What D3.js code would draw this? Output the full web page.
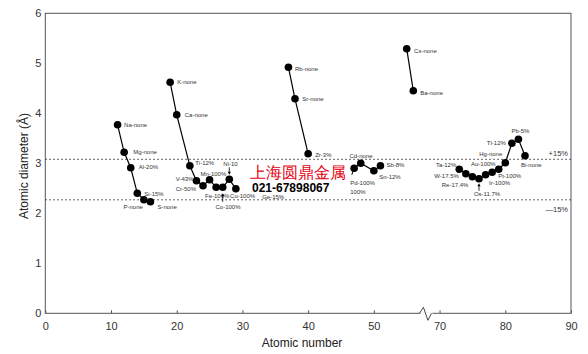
<!DOCTYPE html>
<html lang="en">
<head>
<meta charset="UTF-8">
<title>Atomic diameter vs atomic number</title>
<script src="https://d3js.org/d3.v7.min.js"></script>
<style>
  body { margin: 0; background: #fff; }
  svg text { font-family: "Liberation Sans", Arial, sans-serif; }
  .tick text { font-size: 11px; fill: #333; }
  .note { font-size: 6px; fill: #333; }
  .axis-label { font-size: 12px; fill: #222; }
</style>
</head>
<body>
<svg width="588" height="354"></svg>
<script>
// elements plotted, in drawing order
const symbols = ["Na","Mg","Al","Si","P","S",
  "K","Ca","Ti","V","Cr","Mn","Fe","Co","Ni","Cu",
  "Rb","Sr","Zr",
  "Ag","Cd","Sn","Sb",
  "Cs","Ba",
  "Ta","W","Re","Os","Ir","Pt","Au","Hg","Tl","Pb","Bi"];
const atomicNumbers = [11,12,13,14,15,16,
  19,20,22,23,24,25,26,27,28,29,
  37,38,40,
  47,48,50,51,
  55,56,
  73,74,75,76,77,78,79,80,81,82,83];
const diameters = [3.77,3.22,2.91,2.40,2.27,2.23,
  4.62,3.97,2.95,2.65,2.55,2.67,2.52,2.52,2.68,2.49,
  4.92,4.29,3.19,
  2.90,3.00,2.85,2.95,
  5.29,4.45,
  2.88,2.79,2.73,2.69,2.77,2.82,2.88,3.01,3.40,3.48,3.15];
const seriesId = [0,0,0,0,0,0,
  1,1,1,1,1,1,1,1,1,1,
  2,2,2,
  3,3,3,3,
  4,4,
  5,5,5,5,5,5,5,5,5,5,5];
const solubility = ["none","none","20%","15%","none","none",
  "none","none","12%","43%","50%","100%","100%","100%","10","100%",
  "none","none","3%",
  null,"none","12%","8%",
  "none","none",
  "12%","17.5%","17.4%","11.7%","100%","100%","100%","none","12%","5%","none"];

// extra notes without a marker
const extraNotes = [
  { text: "Pd-100%", x: 46.4, y: 2.60 },
  { text: "100%", x: 46.4, y: 2.42 },
  { text: "Ge-15%", x: 33, y: 2.33 }
];
// arrows pointing at a marker: [atomic number, tail value, tip value]
const arrows = [[28, 2.92, 2.77], [27, 2.23, 2.40], [76, 2.45, 2.60]];
const leaders = [[47, 2.90, 46.64, 2.77]];

const xTicks = [0,10,20,30,40,50,70,80,90];
const yTicks = [0,1,2,3,4,5,6];
const bandUpper = 3.08, bandLower = 2.27;

// label offsets (px) from each marker
const labelLayout = {
  Na:[6.5,0,"start"], Mg:[9,-0.5,"start"], Al:[8,-1,"start"], Si:[7,0.5,"start"],
  P:[-1,7.5,"end"], S:[7,5.5,"start"],
  K:[7,0,"start"], Ca:[8,0,"start"], Ti:[5.5,-2.5,"start"], V:[-3,-2,"end"],
  Cr:[-7,3.6,"end"], Mn:[-9,-5.7,"start"], Fe:[1,8.7,"middle"], Co:[5.3,19.7,"middle"],
  Ni:[1.2,-15.3,"middle"], Cu:[-5.8,7.5,"start"],
  Rb:[6.6,1.5,"start"], Sr:[7.3,0,"start"], Zr:[7,1,"start"],
  Cd:[0.3,-7.6,"middle"], Sn:[5.5,6,"start"], Sb:[6,-1,"start"],
  Cs:[7.4,2,"start"], Ba:[7,2.5,"start"],
  Ta:[-3,-4,"end"], W:[-7,2,"end"], Re:[-4,8,"end"], Os:[8,15.2,"middle"],
  Ir:[3.5,8,"start"], Pt:[6,4,"start"], Au:[-3,-5,"end"], Hg:[-3,-8.5,"end"],
  Tl:[-6,-0.5,"end"], Pb:[2,-8.3,"middle"], Bi:[-4,9,"start"]
};

const data = symbols.map((s, i) => ({
  sym: s, z: atomicNumbers[i], d: diameters[i], g: seriesId[i], note: solubility[i]
}));

const svg = d3.select("svg");
const plotLeft = 45.3, plotRight = 571, plotTop = 13.3, plotBottom = 313.3;
const xBreak = plotLeft + (plotRight - plotLeft) * 58 / 80;

// broken axis: 58..68 collapsed
const x = d3.scaleLinear().domain([0, 58, 68, 90]).range([plotLeft, xBreak, xBreak, plotRight]);
const y = d3.scaleLinear().domain([0, 6]).range([plotBottom, plotTop]);

// frame
svg.append("rect")
  .attr("x", plotLeft).attr("y", plotTop)
  .attr("width", plotRight - plotLeft).attr("height", plotBottom - plotTop)
  .attr("fill", "none").attr("stroke", "#555").attr("stroke-width", 1);

const xAxis = svg.append("g")
  .attr("transform", `translate(0,${plotBottom})`)
  .call(d3.axisBottom(x).tickValues(xTicks).tickSize(-3).tickPadding(9));
xAxis.select(".domain").remove();
xAxis.selectAll(".tick line").attr("stroke", "#555");

const yAxis = svg.append("g")
  .attr("transform", `translate(${plotLeft},0)`)
  .call(d3.axisLeft(y).tickValues(yTicks).tickFormat(d3.format("d")).tickSize(0).tickPadding(4));
yAxis.select(".domain").remove();

// axis break mark
svg.append("rect")
  .attr("x", xBreak - 6).attr("y", plotBottom - 1).attr("width", 12).attr("height", 2)
  .attr("fill", "#fff");
svg.append("path")
  .attr("d", `M${xBreak - 7},${plotBottom} L${xBreak - 3},${plotBottom - 6} L${xBreak + 1.5},${plotBottom + 7} L${xBreak + 5},${plotBottom}`)
  .attr("fill", "none").attr("stroke", "#444").attr("stroke-width", 1);

// ±15% bands
[bandUpper, bandLower].forEach(v => {
  svg.append("line")
    .attr("x1", plotLeft).attr("x2", plotRight)
    .attr("y1", y(v)).attr("y2", y(v))
    .attr("stroke", "#333").attr("stroke-width", 1)
    .attr("stroke-dasharray", "1.5,2.5");
});
svg.append("text").attr("x", plotRight - 3).attr("y", y(bandUpper) - 6)
  .attr("text-anchor", "end").attr("dominant-baseline", "central")
  .attr("font-size", "7.5px").attr("fill", "#333").text("+15%");
svg.append("text").attr("x", plotRight - 3).attr("y", y(bandLower) + 10)
  .attr("text-anchor", "end").attr("dominant-baseline", "central")
  .attr("font-size", "7.5px").attr("fill", "#333").text("\u201415%");

// lines
const line = d3.line().x(d => x(d.z)).y(d => y(d.d));
const groups = d3.groups(data, d => d.g);
svg.selectAll(".series")
  .data(groups)
  .enter().append("path")
  .attr("class", "series")
  .attr("fill", "none").attr("stroke", "#000").attr("stroke-width", 1.2)
  .attr("d", d => line(d[1]));

leaders.forEach(l => {
  svg.append("line")
    .attr("x1", x(l[0])).attr("y1", y(l[1]))
    .attr("x2", x(l[2])).attr("y2", y(l[3]))
    .attr("stroke", "#000").attr("stroke-width", 1);
});

svg.selectAll(".dot")
  .data(data)
  .enter().append("circle")
  .attr("class", "dot")
  .attr("cx", d => x(d.z)).attr("cy", d => y(d.d))
  .attr("r", 3.8).attr("fill", "#000");

// point labels
svg.selectAll(".pt-label")
  .data(data.filter(d => d.note !== null))
  .enter().append("text")
  .attr("class", "note")
  .attr("x", d => x(d.z) + labelLayout[d.sym][0])
  .attr("y", d => y(d.d) + labelLayout[d.sym][1])
  .attr("text-anchor", d => labelLayout[d.sym][2])
  .attr("dominant-baseline", "central")
  .text(d => `${d.sym}-${d.note}`);

extraNotes.forEach(n => {
  svg.append("text").attr("class", "note")
    .attr("x", x(n.x)).attr("y", y(n.y))
    .attr("dominant-baseline", "central")
    .text(n.text);
});

// arrows
arrows.forEach(a => {
  const ax = x(a[0]), y1 = y(a[1]), y2 = y(a[2]);
  const dir = y2 > y1 ? 1 : -1;
  svg.append("line")
    .attr("x1", ax).attr("x2", ax).attr("y1", y1).attr("y2", y2 - dir * 2)
    .attr("stroke", "#000").attr("stroke-width", 0.8);
  svg.append("path")
    .attr("d", `M${ax - 1.6},${y2 - dir * 3} L${ax + 1.6},${y2 - dir * 3} L${ax},${y2} Z`)
    .attr("fill", "#000");
});

// axis titles
svg.append("text")
  .attr("class", "axis-label")
  .attr("x", 302).attr("y", 343)
  .attr("text-anchor", "middle").attr("dominant-baseline", "central")
  .text("Atomic number");
svg.append("text")
  .attr("class", "axis-label")
  .attr("transform", "translate(23.5,166) rotate(-90)")
  .attr("text-anchor", "middle").attr("dominant-baseline", "central")
  .text("Atomic diameter (\u00C5)");

// watermark
svg.append("text")
  .attr("x", 250).attr("y", 177.5)
  .attr("font-family", "'Noto Sans CJK SC', sans-serif")
  .attr("font-weight", 300)
  .attr("font-size", "15.5px").attr("fill", "#e60012")
  .text("上海圆鼎金属");
svg.append("text")
  .attr("x", 252).attr("y", 192)
  .attr("font-family", "'Liberation Mono', monospace")
  .attr("font-weight", "bold")
  .attr("font-size", "12px").attr("fill", "#000")
  .text("021-67898067");
</script>
</body>
</html>
